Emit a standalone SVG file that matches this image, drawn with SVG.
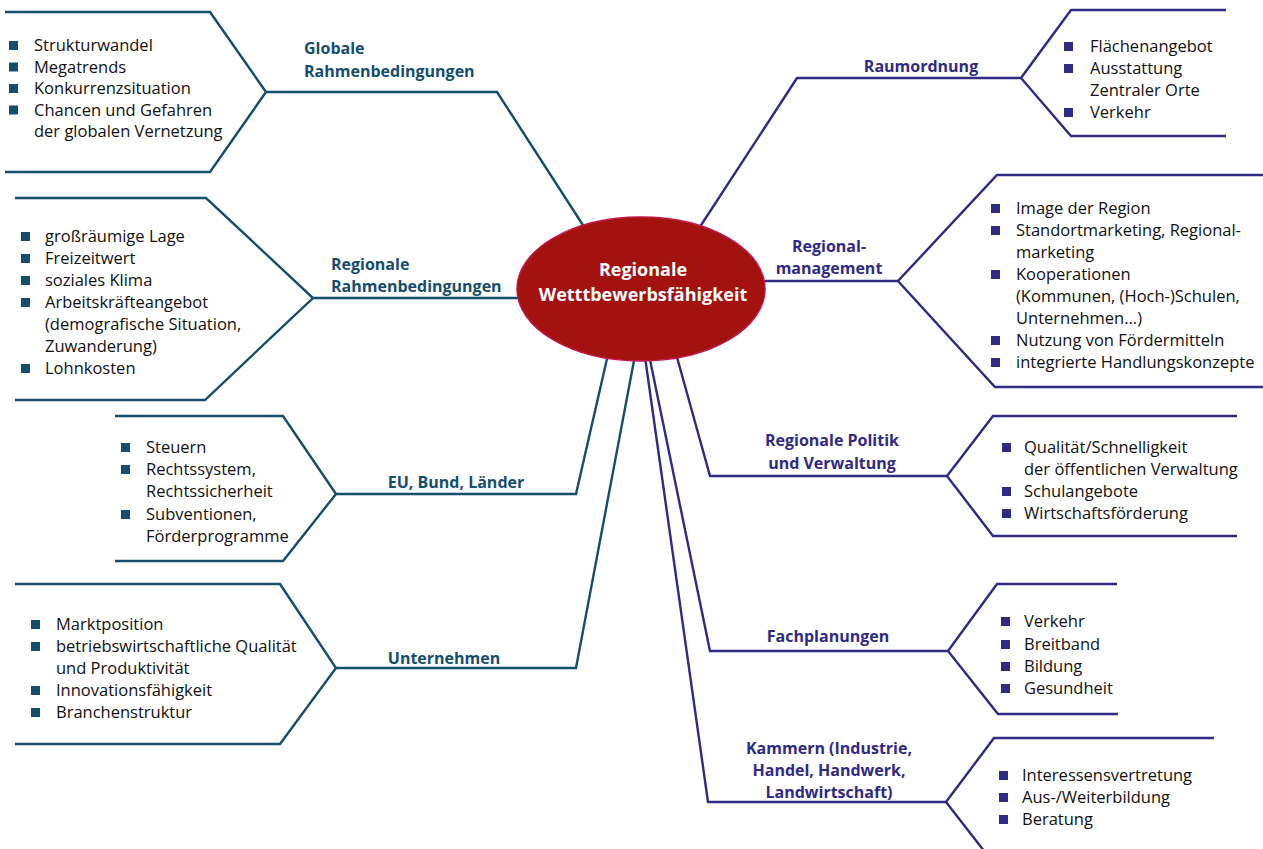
<svg xmlns="http://www.w3.org/2000/svg" width="1263" height="849" viewBox="0 0 1263 849">
<style>
.bg{fill:#ffffff}
.lt{fill:none;stroke:#154e6d;stroke-width:2.4;stroke-linejoin:miter}
.rt{fill:none;stroke:#2f2a84;stroke-width:2.4;stroke-linejoin:miter}
.item{font-family:"Open Sans","Noto Sans",sans-serif;font-size:16.5px;fill:#111111}
.ll{font-family:"Open Sans","Noto Sans",sans-serif;font-size:16px;font-weight:bold;fill:#154e6d}
.rl{font-family:"Open Sans","Noto Sans",sans-serif;font-size:16px;font-weight:bold;fill:#2f2a84}
.c{text-anchor:middle}
.bl{fill:#154e6d}
.br{fill:#2f2a84}
.core{fill:#a3120f;stroke:#c2174a;stroke-width:1.5}
.ct{font-family:"Open Sans","Noto Sans",sans-serif;font-size:18px;font-weight:bold;fill:#ffffff;text-anchor:middle}
</style>
<defs>
<rect id="sq" width="9" height="9"/>
</defs>
<rect class="bg" x="0" y="0" width="1263" height="849"/>

<g id="connectors">
<polyline class="lt" points="590,236 497,92 266,92"/>
<polyline class="lt" points="530,298 313,298"/>
<polyline class="lt" points="609,350 576,494 336,494"/>
<polyline class="lt" points="636,350 576,668 336,668"/>
<polyline class="rt" points="694,236 797,78 1021,78"/>
<polyline class="rt" points="755,281 898,281"/>
<polyline class="rt" points="675,350 710,476 947,476"/>
<polyline class="rt" points="648,350 710,651 948,651"/>
<polyline class="rt" points="644,350 708,802 946,802"/>
</g>

<g id="center">
<ellipse class="core" cx="641" cy="289" rx="124" ry="72"/>
<text class="ct" x="643" y="276">Regionale</text>
<text class="ct" x="643" y="301">Wetttbewerbsfähigkeit</text>
</g>

<g id="globale">
<polyline class="lt" points="5,12 210,12 266,92 210,172 5,172"/>
<text class="ll" x="304" y="54">Globale</text>
<text class="ll" x="304" y="77">Rahmenbedingungen</text>
<use href="#sq" class="bl" x="9" y="41"/>
<use href="#sq" class="bl" x="9" y="62.5"/>
<use href="#sq" class="bl" x="9" y="84"/>
<use href="#sq" class="bl" x="9" y="105.5"/>
<text class="item" x="34" y="51">Strukturwandel</text>
<text class="item" x="34" y="72.5">Megatrends</text>
<text class="item" x="34" y="94">Konkurrenzsituation</text>
<text class="item" x="34" y="115.5">Chancen und Gefahren</text>
<text class="item" x="34" y="137">der globalen Vernetzung</text>
</g>

<g id="regionale-rahmen">
<polyline class="lt" points="15,198 206,198 313,298 205,400 15,400"/>
<text class="ll" x="331" y="270">Regionale</text>
<text class="ll" x="331" y="292">Rahmenbedingungen</text>
<use href="#sq" class="bl" x="21" y="232"/>
<use href="#sq" class="bl" x="21" y="254"/>
<use href="#sq" class="bl" x="21" y="276"/>
<use href="#sq" class="bl" x="21" y="298"/>
<use href="#sq" class="bl" x="21" y="364"/>
<text class="item" x="45" y="242">großräumige Lage</text>
<text class="item" x="45" y="264">Freizeitwert</text>
<text class="item" x="45" y="286">soziales Klima</text>
<text class="item" x="45" y="308">Arbeitskräfteangebot</text>
<text class="item" x="45" y="330">(demografische Situation,</text>
<text class="item" x="45" y="352">Zuwanderung)</text>
<text class="item" x="45" y="374">Lohnkosten</text>
</g>

<g id="eu">
<polyline class="lt" points="115,416 283,416 336,494 283,561 115,561"/>
<text class="ll c" x="456" y="488">EU, Bund, Länder</text>
<use href="#sq" class="bl" x="121" y="443"/>
<use href="#sq" class="bl" x="121" y="465"/>
<use href="#sq" class="bl" x="121" y="510"/>
<text class="item" x="146" y="453">Steuern</text>
<text class="item" x="146" y="475">Rechtssystem,</text>
<text class="item" x="146" y="497">Rechtssicherheit</text>
<text class="item" x="146" y="520">Subventionen,</text>
<text class="item" x="146" y="542">Förderprogramme</text>
</g>

<g id="unternehmen">
<polyline class="lt" points="15,584 280,584 336,668 280,744 15,744"/>
<text class="ll c" x="444" y="664">Unternehmen</text>
<use href="#sq" class="bl" x="31" y="620"/>
<use href="#sq" class="bl" x="31" y="642"/>
<use href="#sq" class="bl" x="31" y="686"/>
<use href="#sq" class="bl" x="31" y="708"/>
<text class="item" x="56" y="630">Marktposition</text>
<text class="item" x="56" y="652">betriebswirtschaftliche Qualität</text>
<text class="item" x="56" y="674">und Produktivität</text>
<text class="item" x="56" y="696">Innovationsfähigkeit</text>
<text class="item" x="56" y="718">Branchenstruktur</text>
</g>

<g id="raumordnung">
<polyline class="rt" points="1226,10 1071,10 1021,78 1071,136 1226,136"/>
<text class="rl c" x="921" y="72">Raumordnung</text>
<use href="#sq" class="br" x="1064" y="42"/>
<use href="#sq" class="br" x="1064" y="64"/>
<use href="#sq" class="br" x="1064" y="108"/>
<text class="item" x="1090" y="52">Flächenangebot</text>
<text class="item" x="1090" y="74">Ausstattung</text>
<text class="item" x="1090" y="96">Zentraler Orte</text>
<text class="item" x="1090" y="118">Verkehr</text>
</g>

<g id="regionalmanagement">
<polyline class="rt" points="1263,175 997,175 898,281 995,387 1263,387"/>
<text class="rl c" x="829" y="252">Regional-</text>
<text class="rl c" x="829" y="274">management</text>
<use href="#sq" class="br" x="991" y="204"/>
<use href="#sq" class="br" x="991" y="226"/>
<use href="#sq" class="br" x="991" y="270"/>
<use href="#sq" class="br" x="991" y="336"/>
<use href="#sq" class="br" x="991" y="358"/>
<text class="item" x="1016" y="214">Image der Region</text>
<text class="item" x="1016" y="236">Standortmarketing, Regional-</text>
<text class="item" x="1016" y="258">marketing</text>
<text class="item" x="1016" y="280">Kooperationen</text>
<text class="item" x="1016" y="302">(Kommunen, (Hoch-)Schulen,</text>
<text class="item" x="1016" y="324">Unternehmen...)</text>
<text class="item" x="1016" y="346">Nutzung von Fördermitteln</text>
<text class="item" x="1016" y="368">integrierte Handlungskonzepte</text>
</g>

<g id="politik">
<polyline class="rt" points="1237,416 993,416 947,476 993,536 1237,536"/>
<text class="rl c" x="832" y="446">Regionale Politik</text>
<text class="rl c" x="832" y="469">und Verwaltung</text>
<use href="#sq" class="br" x="1002" y="443"/>
<use href="#sq" class="br" x="1002" y="487"/>
<use href="#sq" class="br" x="1002" y="509"/>
<text class="item" x="1024" y="453">Qualität/Schnelligkeit</text>
<text class="item" x="1024" y="475">der öffentlichen Verwaltung</text>
<text class="item" x="1024" y="497">Schulangebote</text>
<text class="item" x="1024" y="519">Wirtschaftsförderung</text>
</g>

<g id="fachplanungen">
<polyline class="rt" points="1117,584 997,584 948,651 998,714 1118,714"/>
<text class="rl c" x="828" y="642">Fachplanungen</text>
<use href="#sq" class="br" x="1001" y="617"/>
<use href="#sq" class="br" x="1001" y="640"/>
<use href="#sq" class="br" x="1001" y="662"/>
<use href="#sq" class="br" x="1001" y="684"/>
<text class="item" x="1024" y="627">Verkehr</text>
<text class="item" x="1024" y="650">Breitband</text>
<text class="item" x="1024" y="672">Bildung</text>
<text class="item" x="1024" y="694">Gesundheit</text>
</g>

<g id="kammern">
<polyline class="rt" points="1214,738 994,738 946,802 988,856"/>
<text class="rl c" x="829" y="754">Kammern (Industrie,</text>
<text class="rl c" x="829" y="776">Handel, Handwerk,</text>
<text class="rl c" x="829" y="798">Landwirtschaft)</text>
<use href="#sq" class="br" x="999" y="771"/>
<use href="#sq" class="br" x="999" y="793"/>
<use href="#sq" class="br" x="999" y="815"/>
<text class="item" x="1022" y="781">Interessensvertretung</text>
<text class="item" x="1022" y="803">Aus-/Weiterbildung</text>
<text class="item" x="1022" y="825">Beratung</text>
</g>
</svg>
